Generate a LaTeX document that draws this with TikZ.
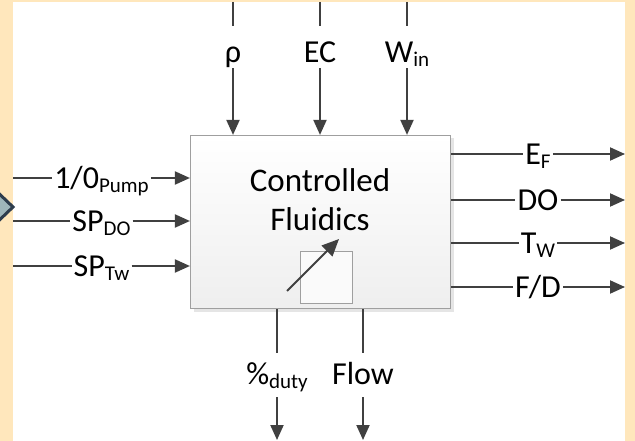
\documentclass[tikz,border=0pt]{standalone}
\usepackage{fontspec}
\setmainfont{Carlito}
\usetikzlibrary{arrows.meta,shadows}
\definecolor{slideyellow}{HTML}{FFE7BC}
\definecolor{wiregray}{HTML}{404040}
\definecolor{chevfill}{HTML}{9FB6BA}
\definecolor{chevline}{HTML}{2E3D4D}
\newcommand{\lowidx}[1]{\raisebox{-4pt}{\fontsize{21}{21}\selectfont #1}}

\begin{document}
\begin{tikzpicture}[x=1pt,y=-1pt,
  wire/.style={draw=wiregray,line width=2pt},
  arr/.style={wire,-{Triangle[length=15pt,width=13pt]}},
  lbl/.style={font=\fontsize{32}{38}\selectfont},
  hlabel/.style={lbl,inner xsep=2pt,inner ysep=0pt,text height=20.6pt,text depth=0pt},
  toplabel/.style={lbl,anchor=base,inner sep=3pt,text height=34pt,text depth=2pt},
  botlabel/.style={lbl,anchor=base,inner sep=3pt,text height=28pt,text depth=10pt}]
  \useasboundingbox (0,0) rectangle (635,441);
  \clip (0,0) rectangle (635,441);
  \fill[slideyellow] (0,0) rectangle (635,441);
  \fill[white] (13,2) rectangle (625,441);
  \filldraw[fill=chevfill,draw=chevline,line width=3pt,line join=miter] (-12,183) -- (13,207) -- (-12,231) -- cycle;

  \node[draw=gray!75,line width=1.2pt,top color=white,bottom color=gray!13,
        minimum width=260pt,minimum height=173pt,
        drop shadow={shadow xshift=3pt,shadow yshift=-3pt,fill=black!10,opacity=1}]
        (fluid) at (320.5,222) {};
  \node[font=\fontsize{33}{39}\selectfont,align=center,inner sep=0pt] (title) at (320,200) {Controlled\\Fluidics};
  \node[draw=gray!75,line width=1pt,fill=gray!4,minimum size=52pt] (dial) at (326.5,277.5) {};
  \coordinate (dialtail) at (287,291);
  \coordinate (dialtip) at (339,239);
  \draw[wire,-{Triangle[length=17pt,width=15pt]}] (dialtail) -- (dialtip);

  \foreach \x/\n/\t in {233/rho/ρ,320/ec/EC,407/win/W\lowidx{in}}{
    \coordinate (\n-in) at (\x,2);
    \node[toplabel] (\n) at (\x,63) {\t};
    \draw[wire] (\n-in) -- (\n.north);
    \draw[arr] (\n.south) -- (\n.south |- fluid.north);
  }
  \foreach \y/\n/\t in {178/pump/{1/0\lowidx{Pump}},221/spdo/SP\lowidx{DO},266/sptw/SP\lowidx{Tw}}{
    \coordinate (\n-in) at (13,\y);
    \node[hlabel] (\n) at (101.5,\y) {\t};
    \draw[wire] (\n-in) -- (\n.west);
    \draw[arr] (\n.east) -- (\n.east -| fluid.west);
  }
  \foreach \y/\n/\t in {154/ef/E\lowidx{F},200/do/DO,243/tw/T\lowidx{W},287/fd/{F/D}}{
    \coordinate (\n-out) at (625,\y);
    \node[hlabel] (\n) at (538,\y) {\t};
    \draw[wire] (\n.west -| fluid.east) -- (\n.west);
    \draw[arr] (\n.east) -- (\n-out);
  }
  \foreach \x/\n/\t in {277/duty/\%\lowidx{duty},363/flow/Flow}{
    \coordinate (\n-out) at (\x,440);
    \node[botlabel] (\n) at (\x,384) {\t};
    \draw[wire] (\n.north |- fluid.south) -- (\n.north);
    \draw[arr] (\n.south) -- (\n-out);
  }
\end{tikzpicture}
\end{document}
